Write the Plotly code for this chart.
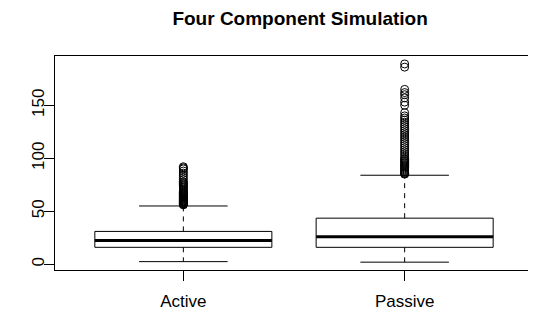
import plotly.graph_objects as go

# ---- data ----
groups = ["Active", "Passive"]
lower_whisker = [2.5, 2.0]
q1 = [16.0, 16.0]
median = [22.5, 26.0]
q3 = [31.0, 43.5]
upper_whisker = [55.0, 84.0]

active_outliers = [56, 56.5, 57, 57.5, 58, 58.5, 59, 59.5, 60, 60.5, 61, 61.5,
                   62, 62.5, 63, 63.5, 64, 65, 65.5, 66, 67, 67.5, 68, 69, 70,
                   71, 72, 73, 74, 75, 76, 77, 78, 80, 82, 84, 86, 88, 90, 91, 92]
passive_outliers = [85, 85.5, 86, 87, 88, 89, 90, 91, 92, 93, 94, 95, 96, 97,
                    98, 99, 100, 102, 104, 106, 108, 110, 112, 114, 116, 118,
                    120, 122, 124, 126, 128, 130, 132, 134, 136, 138, 140, 143,
                    150, 153, 157, 160, 162, 165, 186, 189]
outliers = [active_outliers, passive_outliers]

y_ticks = [0, 50, 100, 150]
title_text = "Four Component Simulation"

# ---- styling ----
positions = [1, 2]
half_box = 0.4
half_cap = 0.2
font_family = "Liberation Sans, Arial, Helvetica, sans-serif"

fig = go.Figure()
for i, p in enumerate(positions):
    # box outline
    fig.add_trace(go.Scatter(
        x=[p - half_box, p + half_box, p + half_box, p - half_box, p - half_box],
        y=[q1[i], q1[i], q3[i], q3[i], q1[i]],
        mode="lines", line=dict(color="black", width=1),
        hoverinfo="skip", showlegend=False))
    # median
    fig.add_trace(go.Scatter(
        x=[p - half_box, p + half_box], y=[median[i], median[i]],
        mode="lines", line=dict(color="black", width=3),
        hoverinfo="skip", showlegend=False))
    # dashed whiskers
    fig.add_trace(go.Scatter(
        x=[p, p, None, p, p],
        y=[q3[i], upper_whisker[i], None, q1[i], lower_whisker[i]],
        mode="lines", line=dict(color="black", width=1, dash="5px,5px"),
        hoverinfo="skip", showlegend=False))
    # caps
    fig.add_trace(go.Scatter(
        x=[p - half_cap, p + half_cap, None, p - half_cap, p + half_cap],
        y=[upper_whisker[i], upper_whisker[i], None, lower_whisker[i], lower_whisker[i]],
        mode="lines", line=dict(color="black", width=1),
        hoverinfo="skip", showlegend=False))
    # outliers
    fig.add_trace(go.Scatter(
        x=[p] * len(outliers[i]), y=outliers[i],
        mode="markers",
        marker=dict(symbol="circle-open", size=8, color="black",
                    line=dict(width=1, color="black")),
        showlegend=False))

fig.update_layout(
    width=536, height=313,
    margin=dict(l=47, r=11, t=48, b=51),
    paper_bgcolor="white", plot_bgcolor="white",
    font=dict(family=font_family, color="black", size=16),
    title=dict(text="<b>" + title_text + "</b>", x=0.545, xanchor="center",
               y=0.967, yanchor="middle",
               font=dict(size=19, family=font_family, color="black")),
    xaxis=dict(range=[0.42, 2.58], tickvals=positions, ticktext=groups,
               showline=True, mirror=True, linecolor="black", linewidth=1,
               ticks="outside", ticklen=10, tickcolor="black", tickwidth=1,
               showgrid=False, zeroline=False, ticklabelstandoff=6,
               tickfont=dict(size=17)),
    yaxis=dict(range=[-5.4, 196.5], tickvals=y_ticks,
               showline=True, mirror=True, linecolor="black", linewidth=1,
               ticks="outside", ticklen=10, tickcolor="black", tickwidth=1,
               showgrid=False, zeroline=False, tickangle=-90,
               ticklabelstandoff=-7, tickfont=dict(size=17)),
)

fig.write_html("out.html")
